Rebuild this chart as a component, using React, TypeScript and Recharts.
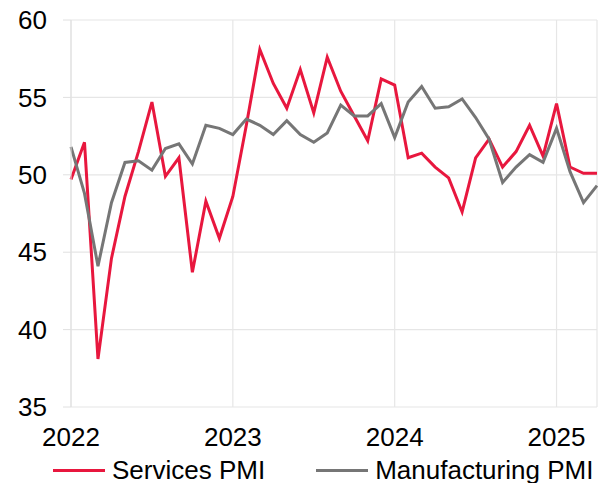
import React from 'react';
import { LineChart, Line, XAxis, YAxis, CartesianGrid, Legend } from 'recharts';

// Monthly PMI readings, Jan 2022 – Apr 2025
const services = [
  49.7, 52.1, 38.1, 44.6, 48.6, 51.5, 54.7, 49.9, 51.1, 43.7, 48.3, 45.9,
  48.6, 53.2, 58.1, 55.9, 54.3, 56.8, 54.0, 57.6, 55.4, 53.8, 52.2, 56.2,
  55.8, 51.1, 51.4, 50.5, 49.8, 47.6, 51.1, 52.3, 50.5, 51.5, 53.2, 51.2,
  54.6, 50.5, 50.1, 50.1,
];

const manufacturing = [
  51.8, 48.8, 44.1, 48.2, 50.8, 50.9, 50.3, 51.7, 52.0, 50.7, 53.2, 53.0,
  52.6, 53.6, 53.2, 52.6, 53.5, 52.6, 52.1, 52.7, 54.5, 53.8, 53.8, 54.6,
  52.4, 54.7, 55.7, 54.3, 54.4, 54.9, 53.7, 52.3, 49.5, 50.5, 51.3, 50.8,
  53.0, 50.2, 48.2, 49.3,
];

const years = ['2022', '2023', '2024', '2025'];
const yTicks = [35, 40, 45, 50, 55, 60];

const data = services.map((s, i) => ({ idx: i, services: s, manufacturing: manufacturing[i] }));

const font = '"Liberation Sans", Arial, sans-serif';

function PmiLegend() {
  const items = [
    { label: 'Services PMI', color: '#E8173E' },
    { label: 'Manufacturing PMI', color: '#767676' },
  ];
  return (
    <div style={{ display: 'flex', alignItems: 'center', paddingLeft: 53, fontFamily: font, fontSize: 26, color: '#000', lineHeight: '26px' }}>
      {items.map((it, k) => (
        <div key={it.label} style={{ display: 'flex', alignItems: 'center', marginRight: k === 0 ? 51 : 0 }}>
          <span style={{ display: 'inline-block', width: 52, height: 3, background: it.color, marginRight: 7 }} />
          <span>{it.label}</span>
        </div>
      ))}
    </div>
  );
}

export default function App() {
  return (
    <div style={{ position: 'absolute', left: 0, top: 0, width: 607, height: 483, background: '#fff' }}>
      <LineChart width={607} height={483} data={data} margin={{ top: 20, right: 10, left: 0, bottom: 0 }}>
        <CartesianGrid stroke="#e6e6e6" strokeWidth={1.2} />
        <XAxis
          dataKey="idx"
          type="number"
          domain={[0, 39]}
          ticks={[0, 12, 24, 36]}
          tickFormatter={(v) => years[v / 12]}
          axisLine={false}
          tickLine={false}
          tickSize={0}
          tickMargin={21}
          height={50}
          tick={{ fontSize: 26, fill: '#000', fontFamily: font }}
        />
        <YAxis
          domain={[35, 60]}
          ticks={yTicks}
          width={71}
          tickSize={8}
          tickMargin={16}
          axisLine={{ stroke: '#e0e0e0' }}
          tickLine={{ stroke: '#e0e0e0' }}
          tick={{ fontSize: 26, fill: '#000', fontFamily: font }}
        />
        <Legend verticalAlign="bottom" align="left" content={<PmiLegend />} wrapperStyle={{ height: 26 }} />
        <Line type="linear" dataKey="services" stroke="#E8173E" strokeWidth={3} dot={false} isAnimationActive={false} />
        <Line type="linear" dataKey="manufacturing" stroke="#767676" strokeWidth={3} dot={false} isAnimationActive={false} />
      </LineChart>
    </div>
  );
}
